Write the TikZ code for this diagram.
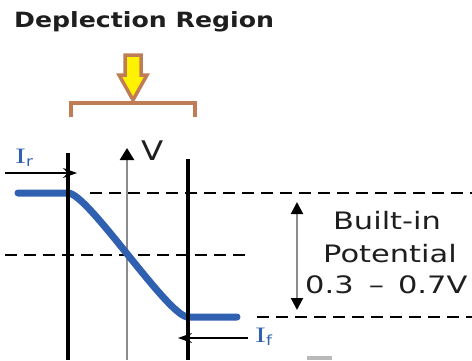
\documentclass[tikz,border=0pt]{standalone}
\usepackage{fontspec}
\setmainfont{DejaVu Sans}
\newfontfamily\seriffont{Liberation Serif}
\usetikzlibrary{arrows.meta}
\definecolor{curveblue}{RGB}{48,96,176}
\definecolor{bracketbrown}{RGB}{192,124,84}
\definecolor{axisgray}{RGB}{140,140,140}
\definecolor{txt}{RGB}{30,30,30}
\tikzset{
  junction/.style={line width=4.5pt, black},
  guide/.style={line width=1.3pt, dash pattern=on 12pt off 7pt, black},
  current/.style={line width=1.2pt, black, -{Stealth[length=14pt,width=10pt]}},
  lbl/.style={inner sep=0pt, text=txt},
  bigtxt/.style={lbl, font=\fontsize{24}{28}\selectfont},
  curlbl/.style={inner sep=0pt, text=curveblue},
}
\newcommand{\curname}[1]{\scalebox{1.5}[1]{\seriffont\fontsize{22}{22}\selectfont I}\raisebox{-3pt}{\scalebox{1.2}[1]{\fontsize{14}{14}\selectfont #1}}}
\begin{document}
\begin{tikzpicture}[x=1pt,y=-1pt]
\useasboundingbox (0,0) rectangle (472,360);
% title
\node[lbl, anchor=base west] (title) at (14,27) {\scalebox{1.2}[1]{\fontsize{21}{24}\selectfont\bfseries Deplection Region}};
% bracket
\coordinate (brl) at (71,117);
\coordinate (brr) at (195,117);
\draw[bracketbrown, line width=4.5pt] (brl) -- (71,103) -- (195,103) -- (brr);
% block arrow
\draw[bracketbrown, line width=3.5pt, fill=yellow, line join=miter]
  (125,55) -- (141,55) -- (141,75) -- (147,75) -- (133,100) -- (119,75) -- (125,75) -- cycle;
% coordinates
\coordinate (topL) at (90,193);
\coordinate (topR) at (472,193);
\coordinate (midL) at (5,255);
\coordinate (midR) at (247,255);
\coordinate (botL) at (257,317);
\coordinate (botR) at (472,317);
\coordinate (axisbot) at (127,360);
\coordinate (axistop) at (127,148);
\coordinate (jlt) at (68,153);
\coordinate (jlb) at (68,360);
\coordinate (jrt) at (188,159);
\coordinate (jrb) at (188,360);
% dashed guides
\draw[guide] (topL) -- (topR);
\draw[guide] (midL) -- (midR);
\draw[guide] (botL) -- (botR);
% axis
\draw[axisgray, line width=2.5pt, -{Triangle[length=12pt,width=14pt,color=black]}] (axisbot) -- (axistop);
\node[lbl, anchor=base west] (V) at (141,160) {\scalebox{1.2}[1]{\fontsize{27}{30}\selectfont V}};
% potential curve
\coordinate (c0) at (18,193);
\coordinate (c1) at (68,193);
\coordinate (c2) at (188,317);
\coordinate (c3) at (237,317);
\draw[curveblue, line width=7pt, line cap=round] (c0) -- (c1) .. controls (88,193) and (168,317) .. (c2) -- (c3);
% junction lines
\draw[junction] (jlt) -- (jlb);
\draw[junction] (jrt) -- (jrb);
% currents
\coordinate (irs) at (5,173);
\coordinate (ire) at (77,173);
\draw[current] (irs) -- (ire);
\node[curlbl, anchor=base west] (Ir) at (15,163) {\curname{r}};
\coordinate (ifs) at (248,338);
\coordinate (ife) at (178,338);
\draw[current] (ifs) -- (ife);
\node[curlbl, anchor=base west] (If) at (255,342) {\curname{f}};
% built-in potential
\coordinate (bt) at (297,202);
\coordinate (bb) at (297,310);
\draw[axisgray, line width=2pt, {Triangle[length=12pt,width=12pt,color=black]}-{Triangle[length=12pt,width=12pt,color=black]}] (bt) -- (bb);
\node[bigtxt, anchor=base] (b1) at (387,229) {\scalebox{1.27}[1]{Built-in}};
\node[bigtxt, anchor=base] (b2) at (390,262) {\scalebox{1.27}[1]{Potential}};
\node[bigtxt, anchor=base west] (b3) at (305,293) {\scalebox{1.27}[1]{0.3\hspace{12pt}–\hspace{11pt}0.7V}};
% small grey mark
\fill[gray!55] (307,356) rectangle (332,360);
\end{tikzpicture}
\end{document}
